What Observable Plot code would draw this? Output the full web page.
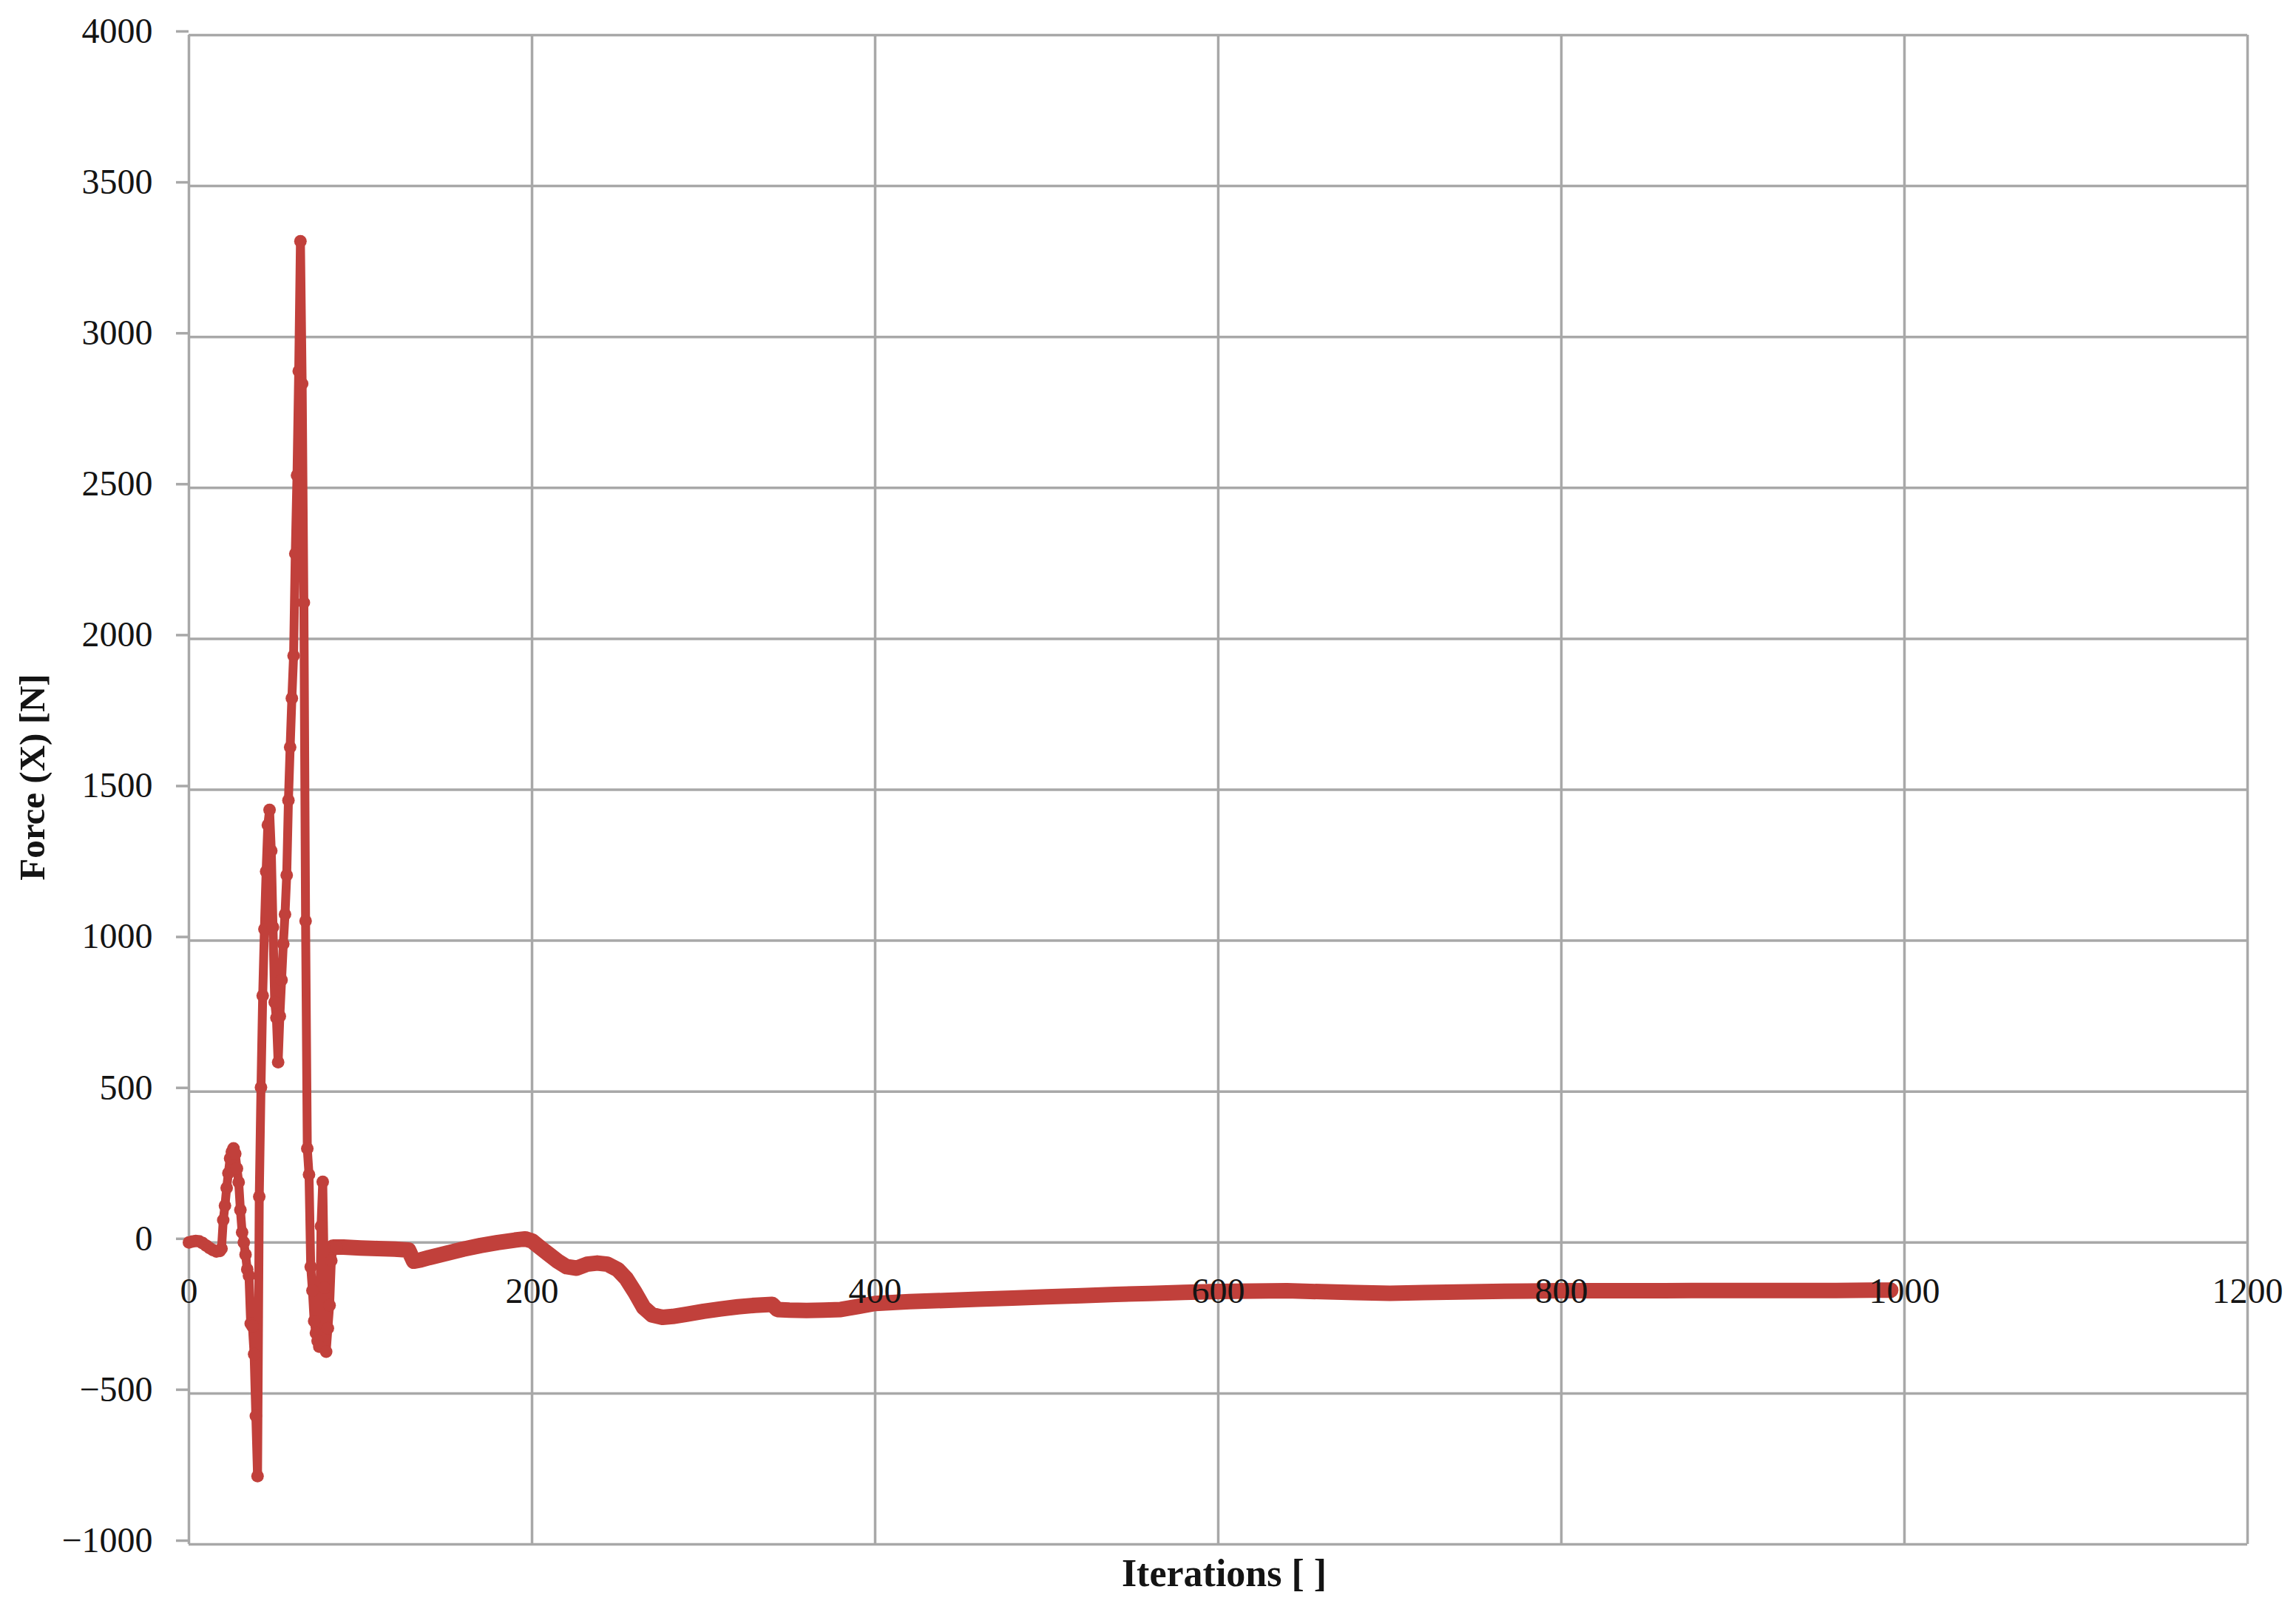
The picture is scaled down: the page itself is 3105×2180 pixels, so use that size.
<!DOCTYPE html>
<html>
<head>
<meta charset="utf-8">
<script src="https://cdn.jsdelivr.net/npm/d3@7"></script>
<script src="https://cdn.jsdelivr.net/npm/@observablehq/plot@0.6"></script>
<style>
  html, body { margin: 0; padding: 0; background: #ffffff; }
</style>
</head>
<body>
<div id="chart"></div>
<script>
// Tick values
const xTicks = [0, 200, 400, 600, 800, 1000, 1200];
const yTicks = [-1000, -500, 0, 500, 1000, 1500, 2000, 2500, 3000, 3500, 4000];

// Axis titles
const xTitle = "Iterations [ ]";
const yTitle = "Force (X) [N]";

// Oscillating start (one marker per iteration)
const iterEarly = [0, 2, 4, 6, 8, 10, 12, 14, 16, 18, 19,
  20, 21, 22, 23, 24, 25, 26, 27, 28, 29, 30, 31, 32, 33, 34, 35, 36, 37, 38, 39,
  40, 41, 42, 43, 44, 45, 46, 47, 48, 49, 50, 51, 52, 53, 54, 55, 56, 57, 58, 59,
  60, 61, 62, 63, 64, 65, 66, 67, 68, 69, 70, 71, 72, 73, 74, 75, 76, 77, 78, 79,
  80, 81, 82, 83, 84, 85, 86];
const forceEarly = [0, 3, 5, 4, -2, -10, -18, -25, -30, -28, -20,
  74, 122, 181, 230, 279, 300, 312, 294, 245, 200, 108, 34, 0, -40, -89, -110, -269, -277, -370, -575,
  -774, 152, 514, 818, 1038, 1229, 1383, 1433, 1298, 1045, 796, 744, 597, 750, 870, 989, 1087, 1217, 1465, 1641,
  1803, 1944, 2282, 2542, 2887, 3317, 2845, 2120, 1065, 311, 225, -81, -159, -260, -300, -326, -345, 54, 201, -150,
  -362, -284, -208, -60, -15, -12, -15];

// Settled part (dense markers merge into a thick band)
const iterLate = [84, 90, 100, 110, 120, 128, 131, 135, 140, 150, 160, 170, 180, 190, 196,
  200, 205, 210, 215, 220, 226, 232, 238, 244, 250, 255, 260, 265, 270, 276, 282, 290,
  300, 310, 320, 330, 340, 343, 350, 360, 370, 380, 390, 400, 420, 440, 460, 480,
  500, 520, 540, 560, 580, 600, 620, 640, 660, 680, 700, 720, 740, 760, 780,
  800, 820, 840, 860, 880, 900, 920, 940, 960, 980, 992];
const forceLate = [-15, -15, -18, -20, -22, -25, -62, -58, -50, -36, -22, -10, 0, 8, 12,
  5, -18, -40, -62, -80, -85, -72, -68, -72, -90, -120, -165, -215, -240, -248, -245, -238,
  -228, -220, -213, -208, -205, -222, -224, -225, -224, -222, -212, -202, -196, -192, -188, -184,
  -180, -176, -172, -169, -165, -162, -161, -160, -163, -166, -168, -166, -164, -162, -161,
  -160, -160, -160, -160, -159, -159, -159, -159, -159, -158, -158];

const early = iterEarly.map((it, i) => ({it, f: forceEarly[i]}));
const late = iterLate.map((it, i) => ({it, f: forceLate[i]}));

const red = "#c1403b";
const grid = "#a8a8a8";
const ink = "#141414";
const fmt = d => d < 0 ? "\u2212" + Math.abs(d) : String(d);

const chart = Plot.plot({
  width: 3105,
  height: 2180,
  marginLeft: 255,
  marginRight: 66,
  marginTop: 47,
  marginBottom: 92,
  style: {fontFamily: "'Liberation Serif', 'Times New Roman', serif", background: "#ffffff", color: ink},
  x: {domain: [0, 1200], axis: null},
  y: {domain: [-1000, 4000], axis: null},
  marks: [
    Plot.gridX(xTicks, {stroke: grid, strokeOpacity: 1, strokeWidth: 3.5}),
    Plot.gridY(yTicks, {stroke: grid, strokeOpacity: 1, strokeWidth: 3.5}),
    Plot.axisY(yTicks, {tickSize: 17, tickPadding: 32, fontSize: 48, stroke: grid, strokeWidth: 3.5,
      fill: ink, tickFormat: fmt, label: null, dy: -5}),
    Plot.line(late, {x: "it", y: "f", stroke: red, strokeWidth: 21, strokeLinejoin: "round", strokeLinecap: "round"}),
    Plot.line(early, {x: "it", y: "f", stroke: red, strokeWidth: 12, strokeLinejoin: "round", strokeLinecap: "round"}),
    Plot.dot(early, {x: "it", y: "f", r: 8.5, fill: red, stroke: "none"}),
    Plot.text(xTicks, {x: d => d, y: () => 0, text: fmt, dy: 66, fontSize: 48, fill: ink}),
    Plot.text([yTitle], {frameAnchor: "left", textAnchor: "middle", lineAnchor: "middle", dx: -211, dy: -17, rotate: -90, fontSize: 49, fontWeight: "bold", fill: ink}),
    Plot.text([xTitle], {frameAnchor: "bottom", textAnchor: "middle", lineAnchor: "middle", dy: 40, dx: 8, fontSize: 52, fontWeight: "bold", fill: ink})
  ]
});
document.getElementById("chart").appendChild(chart);
</script>
</body>
</html>
